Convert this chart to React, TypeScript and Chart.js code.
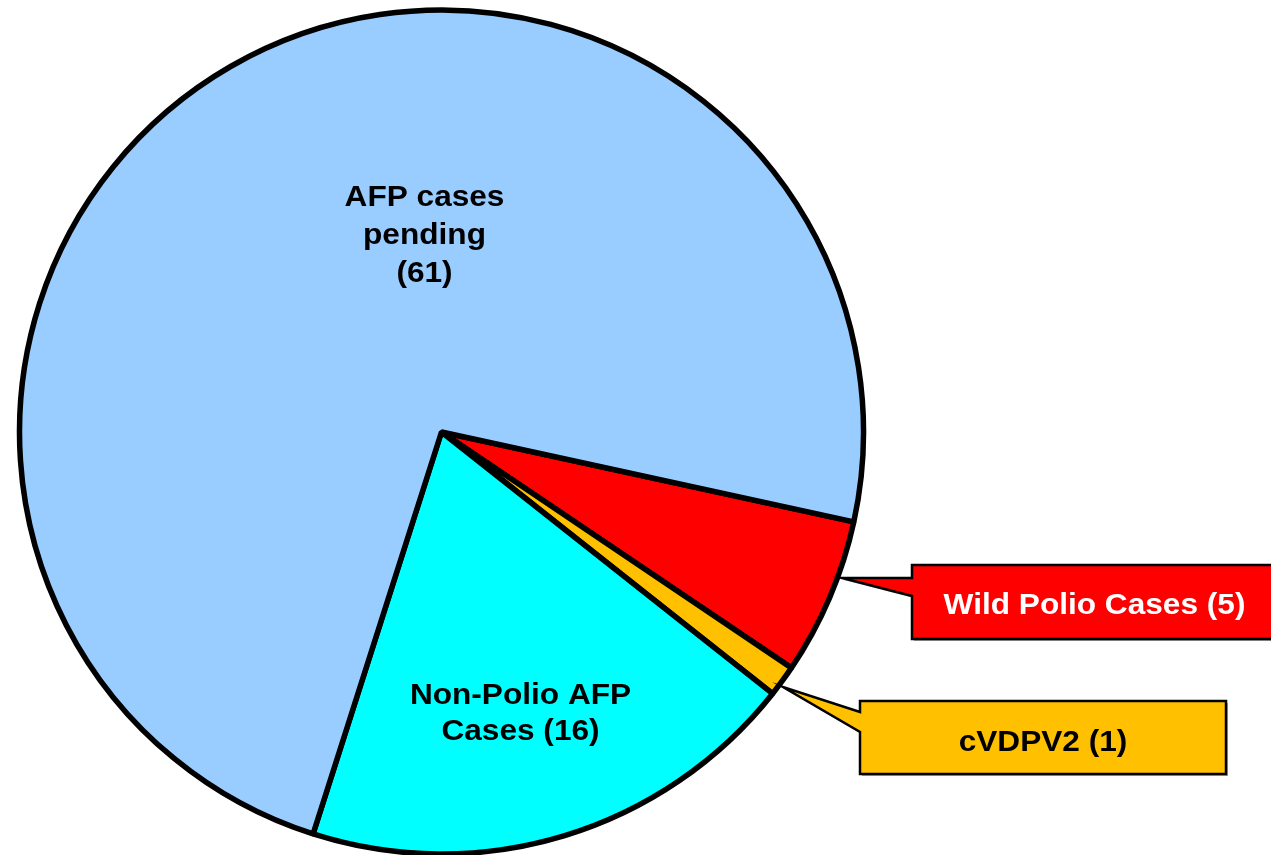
import React, { useEffect, useRef } from "react";
import { Chart, registerables } from "chart.js";

Chart.register(...registerables);

const categories = ["Wild Polio Cases", "cVDPV2", "Non-Polio AFP Cases", "AFP cases pending"];
const values = [5, 1, 16, 61];
const colors = ["#FF0000", "#FFC000", "#00FFFF", "#99CCFF"];
const insideLabelLines = [
  ["AFP cases", "pending", "(61)"],
  ["Non-Polio AFP", "Cases (16)"],
];
const calloutLabels = ["Wild Polio Cases (5)", "cVDPV2 (1)"];

const FONT = 'bold 29px "Liberation Sans", Arial, sans-serif';
const SX = 1.09;

function drawText(ctx: CanvasRenderingContext2D, text: string, cx: number, by: number, color: string) {
  ctx.save();
  ctx.translate(cx, by);
  ctx.scale(SX, 1);
  ctx.font = FONT;
  ctx.fillStyle = color;
  ctx.textAlign = "center";
  ctx.textBaseline = "alphabetic";
  ctx.fillText(text, 0, 0);
  ctx.restore();
}

function poly(ctx: CanvasRenderingContext2D, pts: number[][], dx: number, dy: number) {
  ctx.beginPath();
  pts.forEach((p, i) => {
    if (i === 0) ctx.moveTo(p[0] + dx, p[1] + dy);
    else ctx.lineTo(p[0] + dx, p[1] + dy);
  });
  ctx.closePath();
}

const annotationPlugin = {
  id: "annotations",
  afterDraw(chart: any) {
    const ctx: CanvasRenderingContext2D = chart.ctx;
    const afp = insideLabelLines[0];
    const afpBase = [206, 244, 282];
    afp.forEach((t, i) => drawText(ctx, t, 424.5, afpBase[i], "#000000"));
    const np = insideLabelLines[1];
    const npBase = [703.5, 740];
    np.forEach((t, i) => drawText(ctx, t, 520.5, npBase[i], "#000000"));

    const redPts = [
      [912, 565], [1276, 565], [1276, 639], [912, 639], [912, 596], [842, 578], [912, 578],
    ];
    const orPts = [
      [860, 701], [1226, 701], [1226, 774], [860, 774], [860, 732], [783, 687], [860, 712],
    ];
    const boxes = [
      { pts: redPts, fill: colors[0], text: calloutLabels[0], tx: 1094.5, ty: 613.5, tc: "#FFFFFF" },
      { pts: orPts, fill: colors[1], text: calloutLabels[1], tx: 1043, ty: 750.5, tc: "#000000" },
    ];
    boxes.forEach((b) => {
      ctx.save();
      poly(ctx, b.pts, 2, 2);
      ctx.fillStyle = "#A6A6A6";
      ctx.fill();
      poly(ctx, b.pts, 0, 0);
      ctx.fillStyle = b.fill;
      ctx.fill();
      ctx.lineWidth = 2.5;
      ctx.strokeStyle = "#000000";
      ctx.lineJoin = "miter";
      ctx.stroke();
      ctx.restore();
      drawText(ctx, b.text, b.tx, b.ty, b.tc);
    });
  },
};

export default function App() {
  const ref = useRef<HTMLCanvasElement>(null);
  useEffect(() => {
    if (!ref.current) return;
    const chart = new Chart(ref.current, {
      type: "pie",
      data: {
        labels: categories,
        datasets: [
          {
            data: values,
            backgroundColor: colors,
            borderColor: "#000000",
            borderWidth: 5.5,
          },
        ],
      },
      options: {
        responsive: false,
        animation: false,
        devicePixelRatio: 1,
        rotation: 102.3,
        radius: 422,
        layout: { padding: { left: 17, right: 405, top: 9, bottom: 0 } },
        plugins: {
          legend: { display: false },
          tooltip: { enabled: false },
          title: { display: false },
        },
      } as any,
      plugins: [annotationPlugin],
    });
    return () => chart.destroy();
  }, []);
  return (
    <div style={{ position: "fixed", left: 0, top: 0, width: 1271, height: 855, background: "#FFFFFF" }}>
      <canvas ref={ref} width={1271} height={855} style={{ display: "block" }} />
    </div>
  );
}
